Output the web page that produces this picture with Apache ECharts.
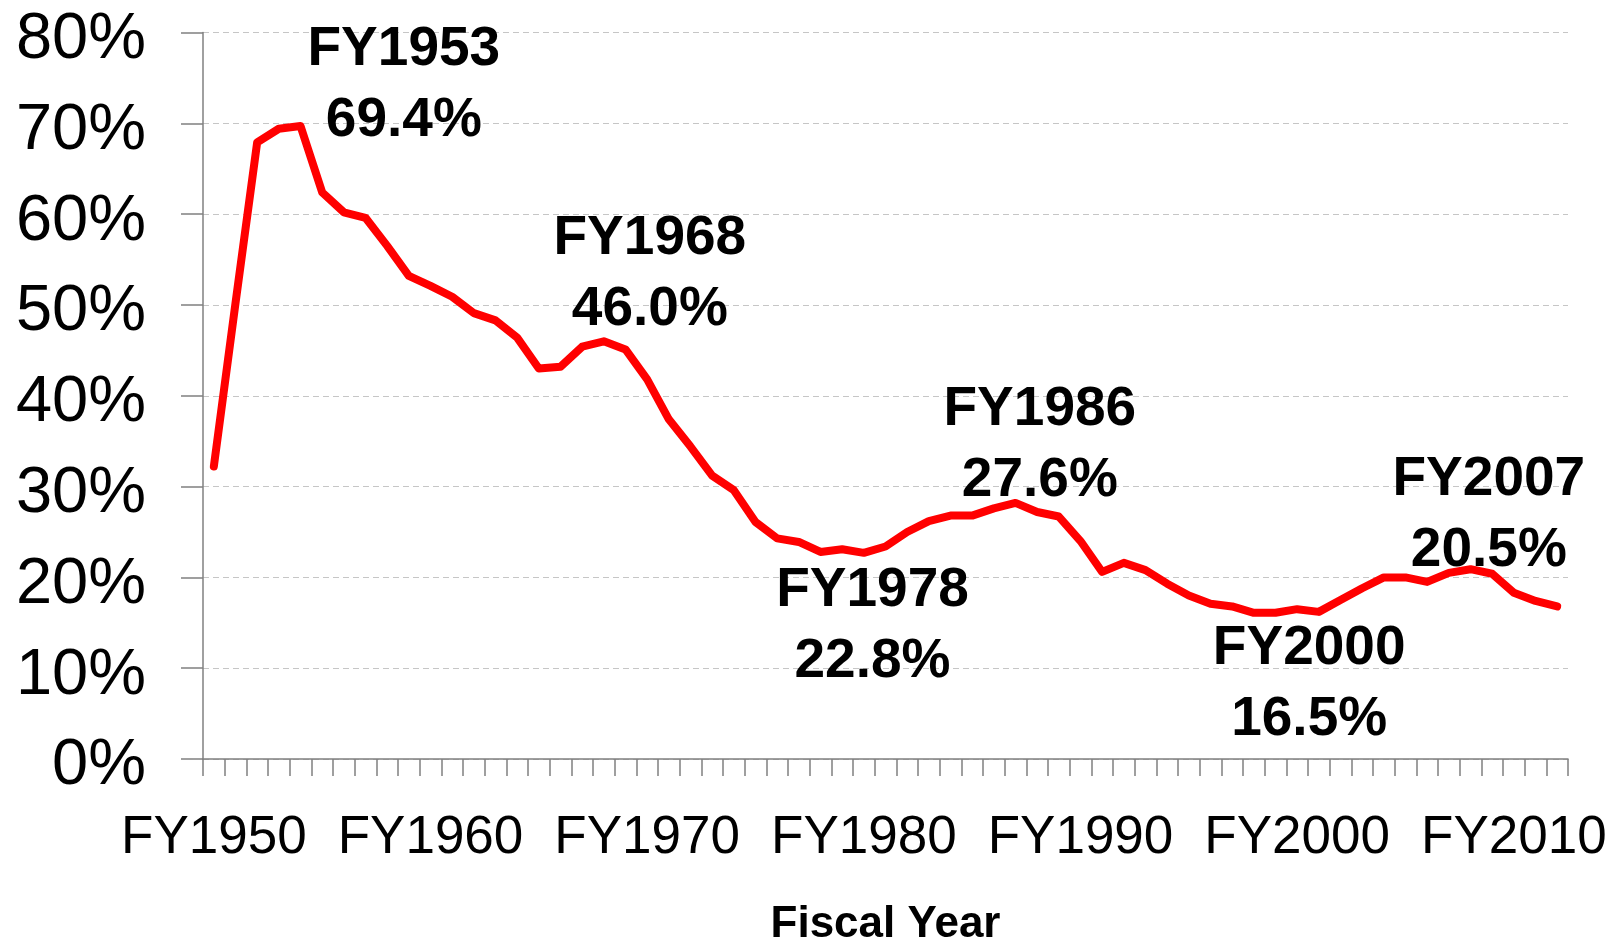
<!DOCTYPE html>
<html>
<head>
<meta charset="utf-8">
<title>Fiscal Year</title>
<style>
	html, body { margin: 0; padding: 0; background: #fff; }
	#main { width: 1623px; height: 939px; }
</style>
<script src="https://cdn.jsdelivr.net/npm/echarts/dist/echarts.min.js"></script>
</head>
<body>
<div id="main"></div>
<script>
// 财年 FY1950 - FY2012
var years = [];
for (var y = 1950; y <= 2012; y++) years.push('FY' + y);

// 每年的占比(%)
var shares = [
	32.2, 50.2, 67.9, 69.4, 69.7, 62.4, 60.2, 59.6, 56.5, 53.2,
	52.1, 50.9, 49.1, 48.3, 46.4, 43.0, 43.2, 45.4, 46.0, 45.1,
	41.8, 37.4, 34.4, 31.2, 29.6, 26.1, 24.3, 23.9, 22.8, 23.1,
	22.7, 23.4, 25.0, 26.2, 26.8, 26.8, 27.6, 28.2, 27.2, 26.7,
	24.0, 20.6, 21.6, 20.8, 19.3, 18.0, 17.1, 16.8, 16.1, 16.1,
	16.5, 16.2, 17.5, 18.8, 20.0, 20.0, 19.5, 20.5, 20.9, 20.4,
	18.3, 17.4, 16.8
];

// y轴刻度
var yTicks = [0, 10, 20, 30, 40, 50, 60, 70, 80];

// 标注的年份
var noteYears = ['FY1953', 'FY1968', 'FY1978', 'FY1986', 'FY2000', 'FY2007'];

var font = "'Liberation Sans', Arial, sans-serif";

function chart() {
	var myChart = echarts.init(document.getElementById('main'));

	// 标注文字相对数据点的偏移
	var noteOffset = {
		FY1953: [125, -43],
		FY1968: [46, -67],
		FY1978: [52, 74],
		FY1986: [46, -63],
		FY2000: [12, 75],
		FY2007: [40, -58]
	};
	var notes = noteYears.map(function(name) {
		var v = shares[years.indexOf(name)];
		return {
			name: name,
			coord: [name, v],
			value: v,
			label: { offset: noteOffset[name] }
		};
	});

	var option = {
		animation: false,
		grid: {
			left: 203,
			right: 55,
			top: 32.5,
			bottom: 180,
			outerBoundsMode: 'none' // 不让坐标轴文字挤压绘图区
		},
		xAxis: {
			type: 'category',
			data: years,
			boundaryGap: true,
			name: 'Fiscal Year',
			nameLocation: 'middle',
			nameGap: 144,
			nameTextStyle: {
				fontFamily: font,
				fontWeight: 'bold',
				fontSize: 44,
				color: '#000'
			},
			axisLine: { lineStyle: { color: '#808080', width: 1.5 } },
			axisTick: {
				show: true,
				interval: 0,
				length: 17,
				lineStyle: { color: '#808080', width: 1.5 }
			},
			axisLabel: {
				interval: 9,
				margin: 53,
				fontFamily: font,
				fontSize: 53,
				color: '#000'
			}
		},
		yAxis: {
			type: 'value',
			min: yTicks[0],
			max: yTicks[yTicks.length - 1],
			interval: yTicks[1] - yTicks[0],
			axisLine: { show: true, lineStyle: { color: '#808080', width: 1.5 } },
			axisTick: {
				show: true,
				length: 22,
				lineStyle: { color: '#808080', width: 1.5 }
			},
			axisLabel: {
				margin: 57,
				color: '#000',
				formatter: function(v) {
					return '{p|' + v + '%}';
				},
				rich: {
					// 文字略低于网格线
					p: {
						fontFamily: font,
						fontSize: 65,
						color: '#000',
						padding: [15, 0, 0, 0]
					}
				}
			},
			splitLine: {
				lineStyle: { color: '#c6c6c6', width: 1, type: [6, 4] }
			}
		},
		series: [{
			type: 'line',
			data: shares,
			symbol: 'none',
			lineStyle: {
				color: '#ff0000',
				width: 8,
				cap: 'round',
				join: 'round'
			},
			markPoint: {
				symbol: 'circle',
				symbolSize: 1,
				itemStyle: { color: 'rgba(0,0,0,0)' },
				label: {
					show: true,
					position: 'inside',
					fontFamily: font,
					fontWeight: 'bold',
					fontSize: 55,
					lineHeight: 71,
					color: '#000',
					formatter: function(p) {
						return p.name + '\n' + p.value.toFixed(1) + '%';
					}
				},
				data: notes
			}
		}]
	};

	myChart.setOption(option);
}

chart();
</script>
</body>
</html>
